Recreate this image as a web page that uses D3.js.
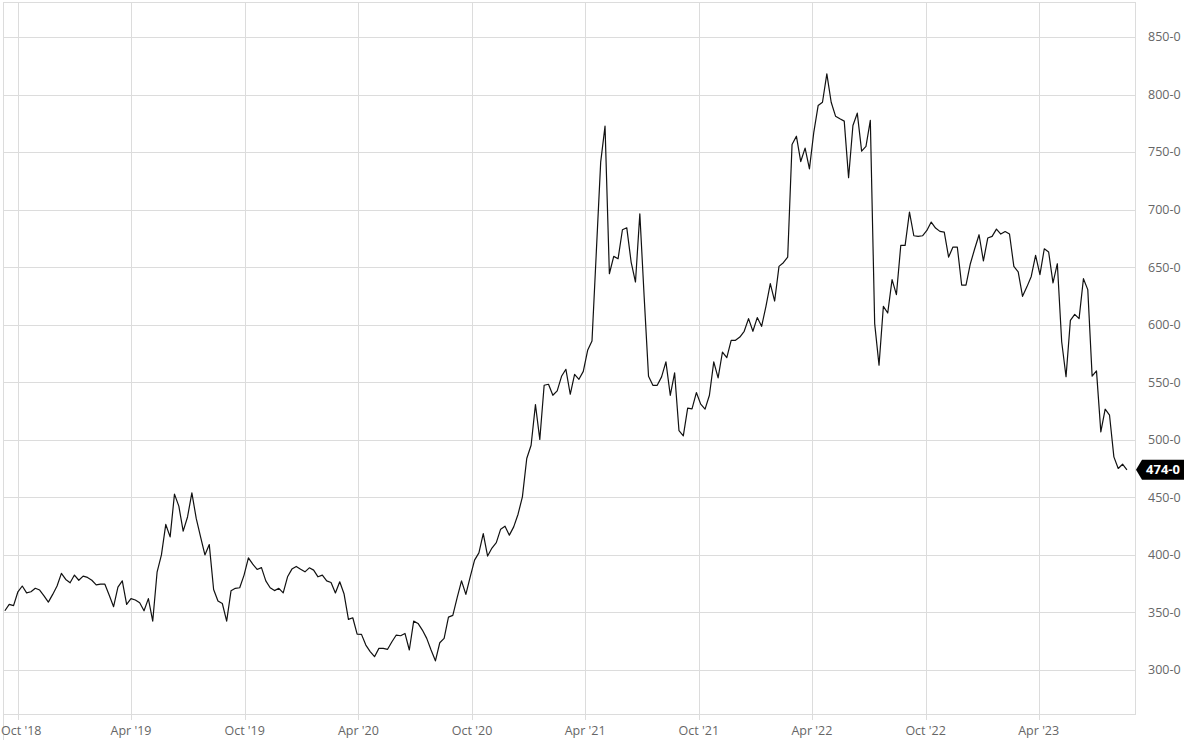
<!DOCTYPE html>
<html>
<head>
<meta charset="utf-8">
<script src="https://cdn.jsdelivr.net/npm/d3@7"></script>
<style>
  html, body { margin: 0; padding: 0; background: #fff; }
  svg { display: block; font-family: "Open Sans", "Noto Sans", sans-serif; }
</style>
</head>
<body>
<svg id="chart" width="1200" height="750"></svg>
<script>
// ---- data (weekly closes, first week starting 2018-09-10) ----
const firstWeek = "2018-09-10";
const values = [
  351.5, 357, 356, 368, 373, 367, 368, 371, 369.5, 364.5,
  359, 365.7, 373, 384, 378.7, 375.8, 382.5, 378, 381.6, 380.5,
  378, 374, 374.6, 374.6, 365, 355, 372, 377.5, 357, 362,
  360.8, 358.4, 351.5, 362, 342.5, 385, 400, 426.5, 415.7, 452.8,
  442.4, 420.7, 433, 454, 431.7, 415.7, 400, 409, 370, 360,
  357.8, 342.5, 368.8, 371, 371.5, 382.5, 397.5, 392, 387.4, 389,
  377.5, 371.5, 369, 371, 367, 381, 387.7, 390, 387.5, 385.3,
  388.8, 386.8, 381, 382.5, 377.5, 376, 367, 376.7, 366, 344,
  345.4, 331.2, 331, 321.7, 316, 311.6, 318.8, 318.8, 318, 324.6,
  330.4, 329.8, 331.8, 317.4, 342.5, 340.5, 334.7, 327.5, 317.4, 308,
  323.7, 327.5, 346, 347.5, 363, 377.5, 365.7, 381, 395.5, 401.8,
  418.6, 399, 406, 410.7, 422.4, 425, 417.2, 424.4, 435.4, 450.5,
  483.8, 495.3, 530.6, 500.3, 547.4, 548.3, 538.7, 542.5, 555.2, 561.3,
  539.6, 556.9, 552.6, 559.5, 577.8, 585.9, 663.5, 741.3, 772.5, 644.3,
  659.4, 657.3, 682.5, 684.2, 654.5, 637.1, 696.4, 624, 555.2, 547.4,
  547.4, 554.7, 567.7, 538.7, 558.2, 508.1, 503.5, 527.5, 526.9, 541.1,
  531, 526.7, 538.7, 567.7, 553.8, 576.3, 571.4, 586.5, 586.5, 589.3,
  594.3, 605.3, 594.3, 606.2, 598.6, 616, 635.7, 620.6, 650.7, 653.9,
  658.8, 756.6, 763.8, 741.8, 753.4, 735.4, 767.2, 790.4, 793.3, 817.9,
  793.3, 781.2, 778.9, 776.9, 727.7, 773.1, 783.8, 750.8, 754.9, 777.5,
  601, 564.8, 616, 610.2, 639.2, 626.1, 668.9, 668.9, 697.8, 677.3,
  676.8, 677.3, 681.9, 689.2, 684, 681.1, 680.5, 658.8, 667.5, 667.5,
  634.5, 634.5, 653, 666, 678.2, 655.4, 675.3, 676.8, 683.1, 678.8,
  681, 678.8, 650.7, 645.9, 624.7, 632.9, 642, 660.2, 643.5, 666,
  663.2, 636.4, 653, 585.2, 554.8, 603.8, 609, 605.3, 640, 630.5,
  555.3, 559.9, 506.9, 526.6, 521.4, 485.2, 475.1, 478.8, 474
];
const yTicks = [300, 350, 400, 450, 500, 550, 600, 650, 700, 750, 800, 850];
const xTicks = ["2018-10-01", "2019-04-01", "2019-10-01", "2020-04-01", "2020-10-01",
                "2021-04-01", "2021-10-01", "2022-04-01", "2022-10-01", "2023-04-01"];
const xDomain = ["2018-09-07", "2023-09-03"];
const yDomain = [261.8, 880.4];

// ---- layout ----
const parse = d3.utcParse("%Y-%m-%d");
const plot = { left: 3, right: 1135, top: 2, bottom: 714 };
const start = parse(firstWeek);
const data = values.map((v, i) => ({ date: d3.utcWeek.offset(start, i), value: v }));

const svg = d3.select("#chart");
const x = d3.scaleUtc().domain(xDomain.map(parse)).range([plot.left, plot.right]);
const y = d3.scaleLinear().domain(yDomain).range([plot.bottom, plot.top]);

const gridColor = "#dcdcdc";
const textColor = "#666";

// horizontal grid
svg.append("g").selectAll("line").data(yTicks).join("line")
  .attr("x1", plot.left).attr("x2", plot.right)
  .attr("y1", d => Math.round(y(d)) + 0.5).attr("y2", d => Math.round(y(d)) + 0.5)
  .attr("stroke", gridColor).attr("stroke-width", 1);

// vertical grid (with tick extension)
svg.append("g").selectAll("line").data(xTicks.map(parse)).join("line")
  .attr("x1", d => Math.round(x(d)) + 0.5).attr("x2", d => Math.round(x(d)) + 0.5)
  .attr("y1", plot.top).attr("y2", plot.bottom + 6)
  .attr("stroke", gridColor).attr("stroke-width", 1);

// plot border
svg.append("rect")
  .attr("x", plot.left + 0.5).attr("y", plot.top + 0.5)
  .attr("width", plot.right - plot.left).attr("height", plot.bottom - plot.top)
  .attr("fill", "none").attr("stroke", gridColor).attr("stroke-width", 1);
svg.append("line")
  .attr("x1", plot.left + 0.5).attr("x2", plot.left + 0.5)
  .attr("y1", plot.bottom).attr("y2", plot.bottom + 26)
  .attr("stroke", gridColor).attr("stroke-width", 1);

// x axis labels
const fmtX = d3.utcFormat("%b '%y");
svg.append("g").selectAll("text").data(xTicks.map(parse)).join("text")
  .attr("y", plot.bottom + 21)
  .attr("font-size", "12.5px").attr("fill", textColor)
  .text(d => fmtX(d))
  .each(function(d) {
    const t = d3.select(this);
    const w = this.getComputedTextLength();
    const cx = x(d);
    if (cx - w / 2 < 1) t.attr("x", 1).attr("text-anchor", "start");
    else t.attr("x", cx).attr("text-anchor", "middle");
  });

// y axis labels
svg.append("g").selectAll("text").data(yTicks).join("text")
  .attr("x", 1148).attr("y", d => y(d)).attr("dy", "0.35em")
  .attr("text-anchor", "start")
  .attr("font-size", "12.5px").attr("fill", textColor)
  .text(d => d + "-0");

// line
const line = d3.line().x(d => x(d.date)).y(d => y(d.value));
svg.append("path").datum(data)
  .attr("d", line)
  .attr("fill", "none").attr("stroke", "#111").attr("stroke-width", 1.2)
  .attr("stroke-linejoin", "round");

// last value marker
const last = data[data.length - 1];
const ly = y(last.value);
const bx = 1136, bw = 48, bh = 20, tip = 6;
svg.append("path")
  .attr("d", `M${bx},${ly} L${bx + tip},${ly - bh / 2} L${bx + bw},${ly - bh / 2} L${bx + bw},${ly + bh / 2} L${bx + tip},${ly + bh / 2} Z`)
  .attr("fill", "#000");
svg.append("text")
  .attr("x", bx + tip + (bw - tip) / 2).attr("y", ly).attr("dy", "0.36em")
  .attr("text-anchor", "middle")
  .attr("font-size", "13px").attr("font-weight", "bold").attr("fill", "#fff")
  .text(Math.round(last.value) + "-0");
</script>
</body>
</html>
